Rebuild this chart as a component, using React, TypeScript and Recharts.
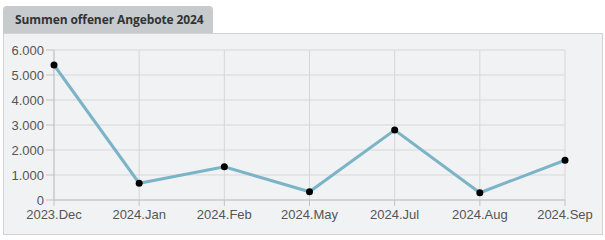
import { LineChart, Line, XAxis, YAxis, CartesianGrid } from 'recharts';

const months = ['2023.Dec', '2024.Jan', '2024.Feb', '2024.May', '2024.Jul', '2024.Aug', '2024.Sep'];
const sums = [5400, 670, 1330, 330, 2800, 290, 1590];
const yTicks = [0, 1000, 2000, 3000, 4000, 5000, 6000];

const data = months.map((m, i) => ({ month: m, value: sums[i] }));

const fmt = (v: number) => String(v).replace(/\B(?=(\d{3})+(?!\d))/g, '.');

const tickStyle = { fontSize: 13, fill: '#555', fontFamily: 'Liberation Sans, Arial, sans-serif' };

export default function App() {
  return (
    <div style={{ position: 'absolute', left: 0, top: 0, width: 605, height: 240, background: '#fff' }}>
      <div
        style={{
          position: 'absolute',
          left: 3,
          top: 6,
          width: 210,
          height: 27,
          background: '#c7cbce',
          borderRadius: '4px 4px 0 0',
          fontFamily: '"Open Sans", sans-serif',
          fontWeight: 700,
          fontSize: 12,
          color: '#333',
          lineHeight: '27px',
          paddingLeft: 12,
          whiteSpace: 'nowrap',
          letterSpacing: -0.1,
          boxSizing: 'border-box',
        }}
      >
        Summen offener Angebote 2024
      </div>
      <div
        style={{
          position: 'absolute',
          left: 3,
          top: 33,
          width: 600,
          height: 202,
          border: '1px solid #d3d3d3',
          background: '#f1f2f4',
          boxSizing: 'border-box',
        }}
      >
        <LineChart width={598} height={200} data={data} margin={{ top: 16, right: 37, left: 0, bottom: 0 }}>
          <CartesianGrid stroke="#d6d7da" />
          <XAxis
            dataKey="month"
            height={34}
            tickSize={6}
            tickMargin={4}
            stroke="#c2c2c2"
            tick={tickStyle}
            interval={0}
          />
          <YAxis
            width={50}
            domain={[0, 6000]}
            ticks={yTicks}
            tickSize={8}
            tickMargin={2}
            stroke="#c2c2c2"
            tick={tickStyle}
            tickFormatter={fmt}
          />
          <Line
            type="linear"
            dataKey="value"
            stroke="#7ab4c6"
            strokeWidth={3}
            dot={{ r: 3.5, fill: '#000', stroke: 'none' }}
            activeDot={false}
            isAnimationActive={false}
          />
        </LineChart>
      </div>
    </div>
  );
}
